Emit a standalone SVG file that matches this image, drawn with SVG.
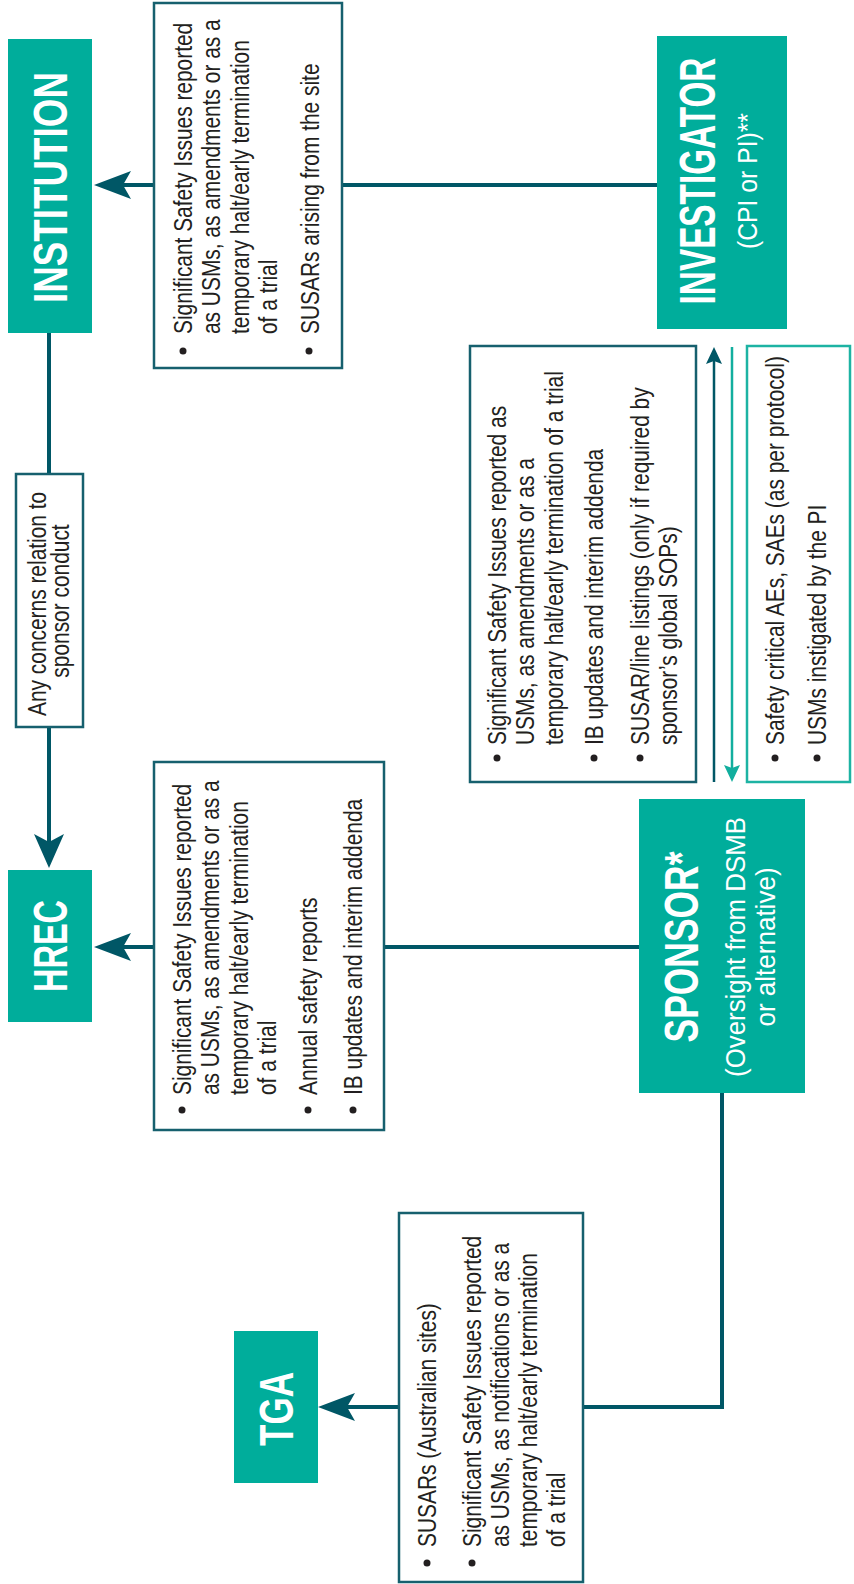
<svg xmlns="http://www.w3.org/2000/svg" width="854" height="1584" viewBox="0 0 854 1584">
<style>
.bg{fill:#ffffff}
.head{fill:#00ad9b}
.htxt{font-family:"Liberation Sans",Arial,sans-serif;font-weight:bold;font-size:49px;fill:#ffffff;text-anchor:middle}
.stxt{font-family:"Liberation Sans",Arial,sans-serif;fill:#ffffff;text-anchor:middle;font-size:28px}
.box{fill:#ffffff;stroke:#16606e;stroke-width:2.5}
.tbox{fill:#ffffff;stroke:#1db3a3;stroke-width:2.5}
.body{font-family:"Liberation Sans",Arial,sans-serif;font-size:25.5px;fill:#231f20}
.bul{fill:#231f20}
.con{fill:none;stroke:#005766;stroke-width:4}
.thin{fill:none;stroke:#005766;stroke-width:2.5}
.tthin{fill:none;stroke:#12ae9e;stroke-width:2.5}
.ah{fill:#005766}
.tah{fill:#12ae9e}
</style>
<rect class="bg" x="0" y="0" width="854" height="1584"/>
<g id="connectors">
<path class="con" d="M657,185 H120"/>
<path class="ah" d="M94,185 L131,171 L123,185 L131,199 Z"/>
<path class="con" d="M49,333 V850"/>
<path class="ah" d="M49,868 L34,834 L49,842 L64,834 Z"/>
<path class="con" d="M639,947 H120"/>
<path class="ah" d="M94,947 L131,933 L123,947 L131,961 Z"/>
<path class="con" d="M722,1093 V1407 H340"/>
<path class="ah" d="M318,1407 L355,1393 L347,1407 L355,1421 Z"/>
<path class="thin" d="M714,782 V358"/>
<path class="ah" d="M714,347 L722,364 L714,361 L706,364 Z"/>
<path class="tthin" d="M732,347 V772"/>
<path class="tah" d="M732,782 L724,765 L732,768 L740,765 Z"/>
</g>
<g id="institution">
<rect class="head" x="8" y="39" width="84" height="294"/>
<text class="htxt" transform="translate(67,187.5) rotate(-90) scale(0.751,1)">INSTITUTION</text>
</g>
<g id="investigator">
<rect class="head" x="657" y="36" width="130" height="293"/>
<text class="htxt" transform="translate(715,181) rotate(-90) scale(0.68,1)">INVESTIGATOR</text>
<text class="stxt" transform="translate(757,181) rotate(-90) scale(0.883,1)">(CPI or PI)**</text>
</g>
<g id="sponsor">
<rect class="head" x="639" y="799" width="166" height="294"/>
<text class="htxt" transform="translate(698,947) rotate(-90) scale(0.723,1)">SPONSOR*</text>
<text class="stxt" transform="translate(745,947) rotate(-90) scale(0.923,1)">(Oversight from DSMB</text>
<text class="stxt" transform="translate(775,947) rotate(-90) scale(0.93,1)">or alternative)</text>
</g>
<g id="hrec">
<rect class="head" x="8" y="870" width="84" height="152"/>
<text class="htxt" transform="translate(67,946) rotate(-90) scale(0.663,1)">HREC</text>
</g>
<g id="tga">
<rect class="head" x="234" y="1331" width="84" height="152"/>
<text class="htxt" transform="translate(293,1409) rotate(-90) scale(0.716,1)">TGA</text>
</g>
<g id="label-institution">
<rect class="box" x="154" y="3" width="188" height="365"/>
<circle class="bul" cx="183" cy="351" r="3.5"/>
<circle class="bul" cx="309" cy="351" r="3.5"/>
<text class="body" transform="translate(0,334) rotate(-90) scale(0.82,1)">
<tspan x="0" y="192">Significant Safety Issues reported</tspan>
<tspan x="0" y="220.5">as USMs, as amendments or as a</tspan>
<tspan x="0" y="249">temporary halt/early termination</tspan>
<tspan x="0" y="277.5">of a trial</tspan>
<tspan x="0" y="319">SUSARs arising from the site</tspan>
</text>
</g>
<g id="label-concerns">
<rect class="box" x="16" y="474" width="67" height="253"/>
<text class="body" text-anchor="middle" transform="translate(0,601) rotate(-90) scale(0.82,1)">
<tspan x="0" y="46.5">Any concerns relation to</tspan>
<tspan x="0" y="69.5">sponsor conduct</tspan>
</text>
</g>
<g id="label-hrec">
<rect class="box" x="154" y="762" width="230" height="368"/>
<circle class="bul" cx="182" cy="1110" r="3.5"/>
<circle class="bul" cx="308" cy="1110" r="3.5"/>
<circle class="bul" cx="353" cy="1110" r="3.5"/>
<text class="body" transform="translate(0,1095) rotate(-90) scale(0.82,1)">
<tspan x="0" y="191">Significant Safety Issues reported</tspan>
<tspan x="0" y="219.5">as USMs, as amendments or as a</tspan>
<tspan x="0" y="248">temporary halt/early termination</tspan>
<tspan x="0" y="276.5">of a trial</tspan>
<tspan x="0" y="317">Annual safety reports</tspan>
<tspan x="0" y="362">IB updates and interim addenda</tspan>
</text>
</g>
<g id="label-to-investigator">
<rect class="box" x="470" y="346" width="226" height="436"/>
<circle class="bul" cx="497" cy="758" r="3.5"/>
<circle class="bul" cx="594" cy="758" r="3.5"/>
<circle class="bul" cx="640" cy="758" r="3.5"/>
<text class="body" transform="translate(0,745) rotate(-90) scale(0.82,1)">
<tspan x="0" y="506">Significant Safety Issues reported as</tspan>
<tspan x="0" y="534.5">USMs, as amendments or as a</tspan>
<tspan x="0" y="563">temporary halt/early termination of a trial</tspan>
<tspan x="0" y="603">IB updates and interim addenda</tspan>
<tspan x="0" y="649">SUSAR/line listings (only if required by</tspan>
<tspan x="0" y="677.5">sponsor’s global SOPs)</tspan>
</text>
</g>
<g id="label-to-sponsor">
<rect class="tbox" x="747" y="346" width="103" height="436"/>
<circle class="bul" cx="775" cy="758" r="3.5"/>
<circle class="bul" cx="817" cy="758" r="3.5"/>
<text class="body" transform="translate(0,745) rotate(-90) scale(0.82,1)">
<tspan x="0" y="784">Safety critical AEs, SAEs (as per protocol)</tspan>
<tspan x="0" y="826">USMs instigated by the PI</tspan>
</text>
</g>
<g id="label-tga">
<rect class="box" x="399" y="1213" width="184" height="369"/>
<circle class="bul" cx="427" cy="1563" r="3.5"/>
<circle class="bul" cx="472" cy="1563" r="3.5"/>
<text class="body" transform="translate(0,1547) rotate(-90) scale(0.82,1)">
<tspan x="0" y="436">SUSARs (Australian sites)</tspan>
<tspan x="0" y="481">Significant Safety Issues reported</tspan>
<tspan x="0" y="509">as USMs, as notifications or as a</tspan>
<tspan x="0" y="537">temporary halt/early termination</tspan>
<tspan x="0" y="565">of a trial</tspan>
</text>
</g>
</svg>
